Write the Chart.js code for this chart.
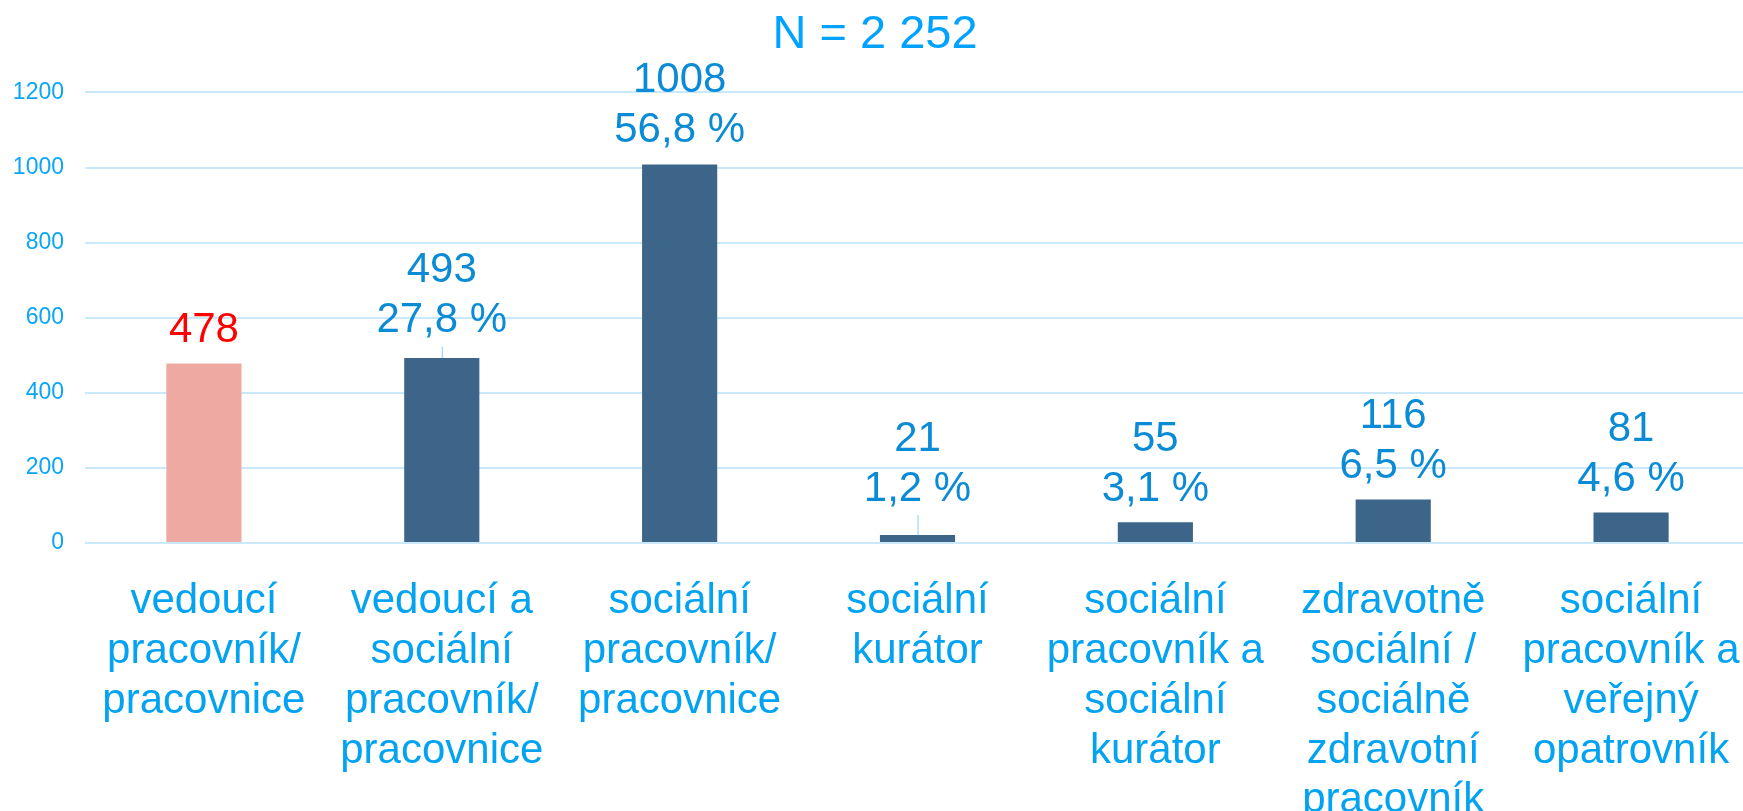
<!DOCTYPE html>
<html lang="cs">
<head>
<meta charset="utf-8">
<title>N = 2 252</title>
<script src="https://cdn.jsdelivr.net/npm/chart.js@4.4.1/dist/chart.umd.min.js"></script>
<style>
  html, body { margin: 0; padding: 0; background: #fff; overflow: hidden; }
  /* the plot area in the original runs a few px past the right edge */
  #wrap { width: 1750px; height: 811px; }
</style>
</head>
<body>
<div id="wrap"><canvas id="positionsChart"></canvas></div>
<script>
// Data
const categories = [
    ['vedoucí', 'pracovník/', 'pracovnice'],
    ['vedoucí a', 'sociální', 'pracovník/', 'pracovnice'],
    ['sociální', 'pracovník/', 'pracovnice'],
    ['sociální', 'kurátor'],
    ['sociální', 'pracovník a', 'sociální', 'kurátor'],
    ['zdravotně', 'sociální /', 'sociálně', 'zdravotní', 'pracovník'],
    ['sociální', 'pracovník a', 'veřejný', 'opatrovník']
];
const counts = [478, 493, 1008, 21, 55, 116, 81];
const shares = [null, 27.8, 56.8, 1.2, 3.1, 6.5, 4.6]; // %
const yTicks = [0, 200, 400, 600, 800, 1000, 1200];
const titleText = 'N = 2 252';

// Styles
const FONT = "Arial, 'Liberation Sans', sans-serif";
const BAR_COLOR = '#3d6589';
const HIGHLIGHT_COLOR = '#eea9a2';
const LABEL_GAP = 33;    // bar top -> centre of last label line
const LABEL_LINE = 50;
const labelLift = [0, 4, 1, 13, 0, 0, 0]; // extra lift where Excel moved the label (leader line)

function formatShare(v) {
    return v.toFixed(1).replace('.', ',') + ' %';
}

// Popisky nad sloupci (počet + podíl)
const barLabels = {
    id: 'barLabels',
    afterDatasetsDraw(chart) {
        const { ctx } = chart;
        const meta = chart.getDatasetMeta(0);
        ctx.save();
        ctx.font = `42px ${FONT}`;
        ctx.textAlign = 'center';
        ctx.textBaseline = 'middle';
        meta.data.forEach((bar, i) => {
            const lines = [String(counts[i])];
            if (shares[i] != null) lines.push(formatShare(shares[i]));
            const lastY = bar.y - LABEL_GAP - labelLift[i];
            ctx.fillStyle = shares[i] == null ? '#ff0000' : '#0b8bd6';
            lines.forEach((t, k) => {
                ctx.fillText(t, bar.x, lastY - (lines.length - 1 - k) * LABEL_LINE);
            });
            if (labelLift[i] > 3) {
                ctx.strokeStyle = '#8ccbef';
                ctx.lineWidth = 1;
                ctx.beginPath();
                ctx.moveTo(bar.x + 0.5, lastY + 26);
                ctx.lineTo(bar.x + 0.5, bar.y);
                ctx.stroke();
            }
        });
        ctx.restore();
    }
};

const canvas = document.getElementById('positionsChart');
new Chart(canvas, {
    type: 'bar',
    data: {
        labels: categories,
        datasets: [{
            data: counts,
            backgroundColor: counts.map((_, i) => i === 0 ? HIGHLIGHT_COLOR : BAR_COLOR),
            borderWidth: 0,
            categoryPercentage: 1,
            barPercentage: 0.316
        }]
    },
    options: {
        responsive: true,
        maintainAspectRatio: false,
        animation: false,
        layout: { padding: 0 },
        plugins: {
            legend: { display: false },
            tooltip: { enabled: false },
            title: {
                display: true,
                text: titleText,
                color: '#00a2ff',
                font: { family: FONT, size: 47, weight: 'normal' },
                padding: { top: 7, bottom: 29 }
            }
        },
        scales: {
            x: {
                grid: { display: false, drawTicks: false },
                border: { display: false },
                ticks: {
                    color: '#03a3f2',
                    font: { family: FONT, size: 42, lineHeight: 1.19 },
                    padding: 33,
                    maxRotation: 0,
                    autoSkip: false
                },
                afterFit(scale) {
                    scale.height = 268;
                    // labels may overhang the edges, like in the original
                    scale.paddingLeft = 0;
                    scale.paddingRight = 0;
                }
            },
            y: {
                min: 0,
                max: 1200,
                afterBuildTicks(scale) {
                    scale.ticks = yTicks.map(v => ({ value: v }));
                },
                grid: { color: '#c9e8fa', lineWidth: 2, drawTicks: false },
                border: { display: false },
                ticks: {
                    color: '#0aa5f5',
                    font: { family: FONT, size: 23 },
                    padding: 21,
                    callback: (v) => String(v)
                },
                afterFit(scale) { scale.width = 85; }
            }
        }
    },
    plugins: [barLabels]
});
</script>
</body>
</html>
